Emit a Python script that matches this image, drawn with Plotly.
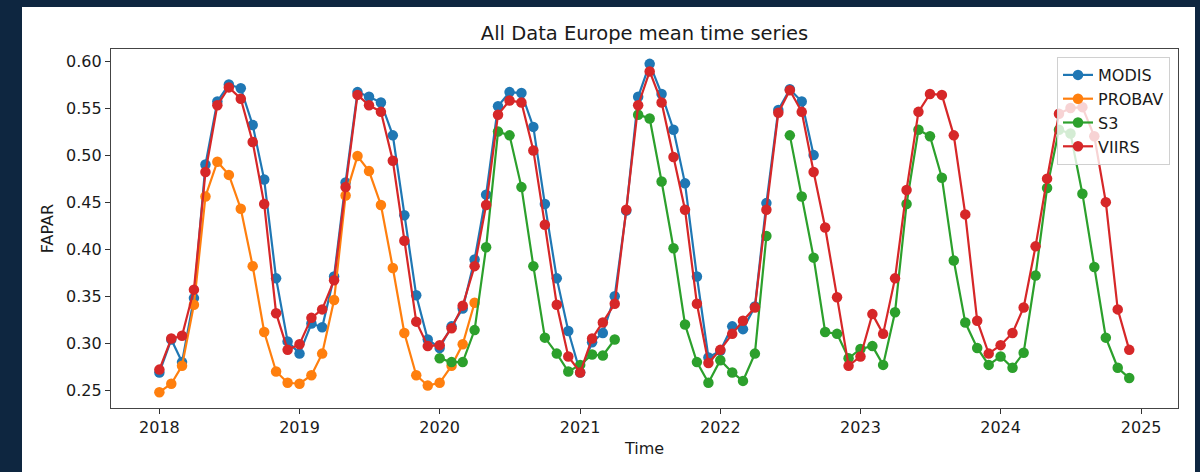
import pandas as pd
import plotly.graph_objects as go

# ---- data (monthly means) ----
modis_start = "2018-01-01"
modis = [0.269, 0.304, 0.280, 0.348, 0.490, 0.557, 0.575, 0.571, 0.532, 0.474, 0.369, 0.302,
         0.289, 0.321, 0.317, 0.371, 0.471, 0.567, 0.562, 0.556, 0.521, 0.436, 0.351, 0.304,
         0.295, 0.318, 0.337, 0.389, 0.458, 0.552, 0.567, 0.566, 0.530, 0.448, 0.369, 0.313,
         0.269, 0.301, 0.311, 0.350, 0.441, 0.562, 0.597, 0.565, 0.527, 0.470, 0.371, 0.285,
         0.292, 0.318, 0.315, 0.339, 0.449, 0.548, 0.570, 0.557, 0.500]

probav_start = "2018-01-01"
probav = [0.248, 0.257, 0.276, 0.341, 0.456, 0.493, 0.479, 0.443, 0.382, 0.312, 0.270, 0.258,
          0.257, 0.266, 0.289, 0.346, 0.457, 0.499, 0.483, 0.447, 0.380, 0.311, 0.266, 0.255,
          0.258, 0.276, 0.299, 0.343]

s3_start = "2020-01-01"
s3 = [0.284, 0.280, 0.280, 0.314, 0.402, 0.525, 0.521, 0.466, 0.382, 0.306, 0.289, 0.270,
      0.277, 0.288, 0.287, 0.304, None, 0.543, 0.539, 0.472, 0.401, 0.320, 0.280, 0.258,
      0.282, 0.269, 0.260, 0.289, 0.414, None, 0.521, 0.456, 0.391, 0.312, 0.310, 0.284,
      0.294, 0.297, 0.277, 0.333, 0.448, 0.527, 0.520, 0.476, 0.388, 0.322, 0.295, 0.277,
      0.286, 0.274, 0.290, 0.372, 0.465, 0.527, 0.523, 0.459, 0.381, 0.306, 0.274, 0.263]

viirs_start = "2018-01-01"
viirs = [0.272, 0.305, 0.308, 0.357, 0.482, 0.553, 0.572, 0.560, 0.514, 0.448, 0.332, 0.293,
         0.299, 0.327, 0.336, 0.367, 0.466, 0.564, 0.553, 0.546, 0.494, 0.409, 0.323, 0.297,
         0.298, 0.316, 0.340, 0.382, 0.447, 0.543, 0.558, 0.556, 0.505, 0.426, 0.341, 0.286,
         0.269, 0.305, 0.322, 0.342, 0.442, 0.553, 0.589, 0.556, 0.498, 0.442, 0.342, 0.279,
         0.293, 0.310, 0.324, 0.338, 0.442, 0.545, 0.569, 0.546, 0.482, 0.423, 0.349, 0.276,
         0.286, 0.331, 0.310, 0.369, 0.463, 0.546, 0.565, 0.564, 0.521, 0.437, 0.324, 0.289,
         0.298, 0.311, 0.338, 0.403, 0.475, 0.544, 0.550, 0.551, 0.520, 0.450, 0.336, 0.293]

series_names = ["MODIS", "PROBAV", "S3", "VIIRS"]
series_colors = ["#1f77b4", "#ff7f0e", "#2ca02c", "#d62728"]

year_ticks = ["2018", "2019", "2020", "2021", "2022", "2023", "2024", "2025"]
fapar_ticks = [0.25, 0.30, 0.35, 0.40, 0.45, 0.50, 0.55, 0.60]

FONT = "DejaVu Sans"
TXT = "#1a1a1a"
FS = 16

fig = go.Figure()
for name, color, start, vals in zip(series_names, series_colors,
                                    [modis_start, probav_start, s3_start, viirs_start],
                                    [modis, probav, s3, viirs]):
    dates = pd.date_range(start, periods=len(vals), freq="MS")
    fig.add_trace(go.Scatter(
        x=dates, y=vals, name=name, mode="lines+markers",
        line=dict(color=color, width=2.2),
        marker=dict(color=color, size=10.5),
        connectgaps=False,
    ))

W, H = 1200, 472
ml, mr, mt, mb = 111, 22, 49, 64
pw, ph = W - ml - mr, H - mt - mb

def px2paper_x(px):
    return (px - ml) / pw

def px2paper_y(py):
    return (H - mb - py) / ph

# white card on navy background
fig.add_shape(type="rect", xref="paper", yref="paper",
              x0=px2paper_x(22), x1=px2paper_x(1195),
              y0=px2paper_y(480), y1=px2paper_y(7),
              fillcolor="white", line=dict(width=0), layer="below")

fig.update_layout(
    width=W, height=H,
    margin=dict(l=ml, r=mr, t=mt, b=mb),
    paper_bgcolor="#0e2640",
    plot_bgcolor="white",
    font=dict(family=FONT, size=FS, color=TXT),
    title=dict(text="All Data Europe mean time series", x=0.5, xref="paper",
               y=1 - 33 / H, yref="container", yanchor="middle", xanchor="center",
               font=dict(family=FONT, size=19.5, color=TXT)),
    showlegend=True,
    legend=dict(x=px2paper_x(1170), y=px2paper_y(57), xanchor="right", yanchor="top",
                bgcolor="rgba(255,255,255,0.8)", bordercolor="#d0d0d0", borderwidth=1,
                font=dict(family=FONT, size=FS, color=TXT)),
)

fig.update_xaxes(
    type="date",
    range=["2017-08-28", "2025-04-07"],
    tickvals=[y + "-01-01" for y in year_ticks],
    ticktext=year_ticks,
    showgrid=False, zeroline=False,
    showline=True, mirror=True, linecolor="#444", linewidth=1.2,
    ticks="outside", ticklen=5, tickwidth=1.1, tickcolor="#333",
    tickfont=dict(family=FONT, size=FS, color=TXT),
    title=dict(text="Time", standoff=6, font=dict(family=FONT, size=FS, color=TXT)),
)
fig.update_yaxes(
    range=[0.2312, 0.6128],
    tickvals=fapar_ticks,
    tickformat=".2f",
    showgrid=False, zeroline=False,
    showline=True, mirror=True, linecolor="#444", linewidth=1.2,
    ticks="outside", ticklen=5, tickwidth=1.1, tickcolor="#333",
    tickfont=dict(family=FONT, size=FS, color=TXT),
    title=dict(text="FAPAR", standoff=8, font=dict(family=FONT, size=FS, color=TXT)),
)

fig.write_html("out.html")
